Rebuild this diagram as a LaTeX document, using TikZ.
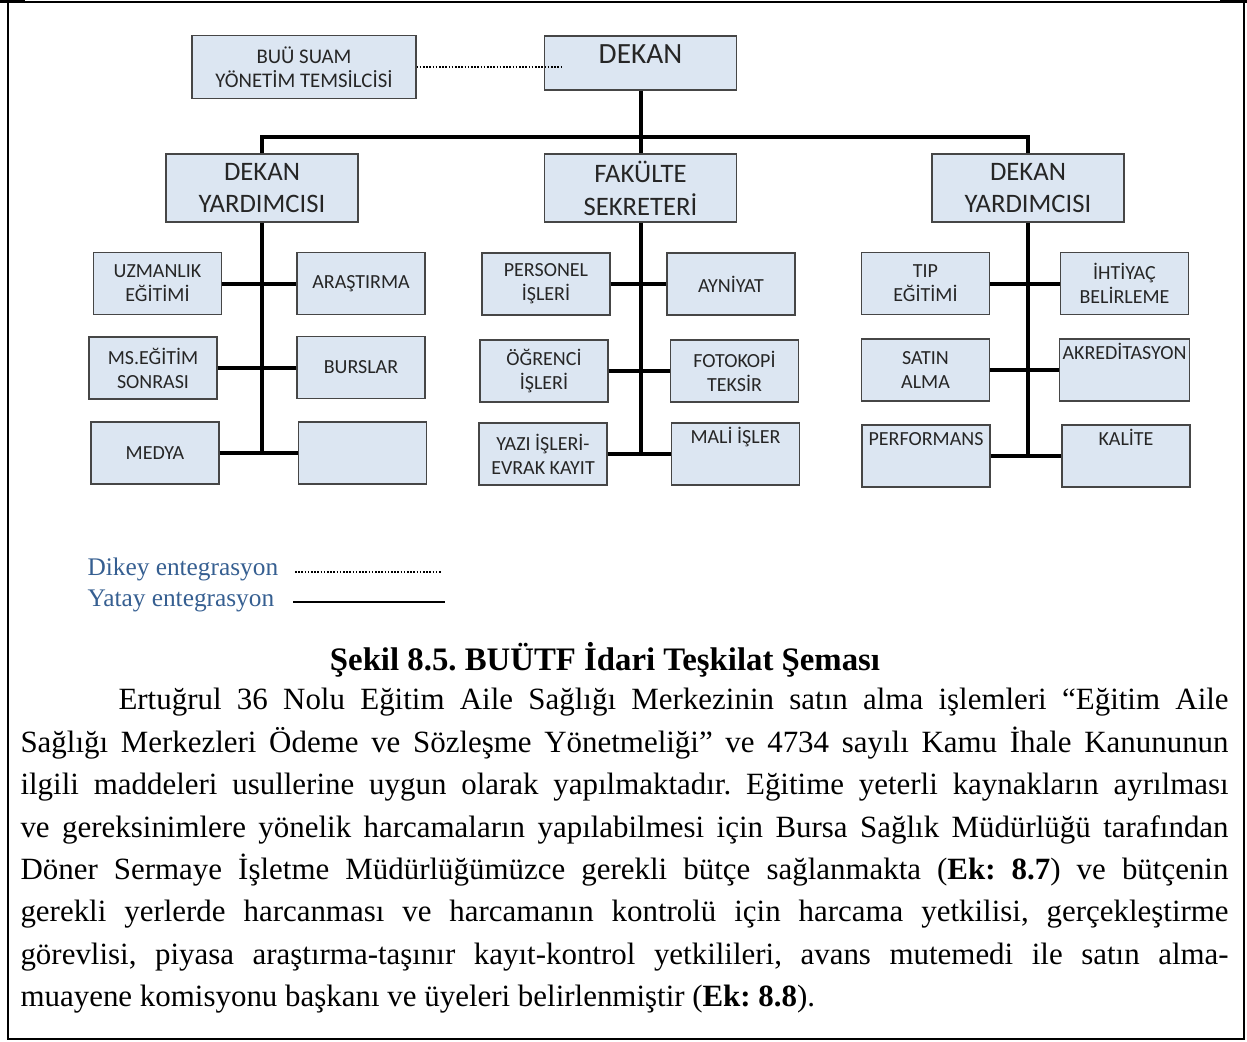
\documentclass[tikz,border=0pt]{standalone}
\usepackage{fontspec}
\setmainfont{Liberation Serif}
\newfontfamily\calib{Carlito}
\usetikzlibrary{calc}
\frenchspacing
\definecolor{boxfill}{RGB}{220,230,242}
\definecolor{boxline}{RGB}{70,70,70}
\definecolor{legendtext}{RGB}{54,95,145}
\tikzstyle{unit}=[rectangle,draw=boxline,fill=boxfill,align=center,inner sep=1pt,text=black!85,minimum width=48pt,minimum height=23.25pt,font={\calib\fontsize{7.5}{9}\selectfont}]
\tikzstyle{topunit}=[unit,text height=5.5pt,text depth=13.7pt]
\tikzstyle{deputy}=[unit,minimum width=72pt,minimum height=25.5pt,font={\calib\fontsize{10}{12.3}\selectfont}]
\tikzstyle{chief}=[deputy,minimum height=20.25pt,text height=8pt,text depth=8pt,font={\calib\fontsize{11}{13}\selectfont}]
\tikzstyle{rep}=[unit,minimum width=84pt,minimum height=23.5pt,font={\calib\fontsize{7.8}{8.8}\selectfont}]
\tikzstyle{link} = [draw,line width=1.5pt]
\tikzstyle{dotlink} = [draw,line width=0.6pt,dash pattern=on 0.6pt off 0.6pt]
\tikzstyle{legend} = [font={\fontsize{9.5}{11}\selectfont},text=legendtext,inner sep=0pt,anchor=base west]

\begin{document}
\begin{tikzpicture}[x=0.375pt,y=-0.375pt]
    \useasboundingbox (0,0) rectangle (1247,1041);
    % page frame
    \draw[line width=0.75pt] (8,2) rectangle (1244,1039);
    \draw[line width=1.2pt] (0,1.5) -- (25,1.5) (1220,1.5) -- (1247,1.5);

    % First we draw the top of the chart
    \node[chief] (dekan) at (640.5,63) {DEKAN};
    \node[rep] (suam) at (304,67) {BUÜ SUAM\\YÖNETİM TEMSİLCİSİ};
    \coordinate (dotend) at (562,65);
    \coordinate (bar) at (640.5,137);

    \foreach \pos/\name/\txt in {{(262,188)/dy1/{DEKAN\\YARDIMCISI}},{(640.5,188)/fak/{FAKÜLTE\\SEKRETERİ}},{(1028,188)/dy2/{DEKAN\\YARDIMCISI}}}
        \node[deputy] (\name) at \pos {\txt};

    % Then the units under each branch
    \foreach \pos/\name/\txt in {{(157.5,283.5)/uzm/{UZMANLIK\\EĞİTİMİ}},{(361,283.5)/ara/{ARAŞTIRMA}},
        {(153,368)/ms/{MS.EĞİTİM\\SONRASI}},{(361,367.5)/burs/{BURSLAR}},
        {(155,453)/medya/{MEDYA}},{(362.5,453)/bos/{}}}
        \node[unit] (\name) at \pos {\txt};

    \foreach \pos/\name/\txt in {{(546,284)/pers/{PERSONEL\\İŞLERİ}},{(731,284)/ayn/{AYNİYAT}},
        {(544,371)/ogr/{ÖĞRENCİ\\İŞLERİ}},{(734.5,371)/foto/{FOTOKOPİ\\TEKSİR}},
        {(543,454)/yazi/{YAZI İŞLERİ-\\EVRAK KAYIT}}}
        \node[unit] (\name) at \pos {\txt};

    \foreach \pos/\name/\txt in {{(925.5,283.5)/tip/{TIP\\EĞİTİMİ}},{(1124.5,283.5)/iht/{İHTİYAÇ\\BELİRLEME}},
        {(925.5,370)/satin/{SATIN\\ALMA}}}
        \node[unit] (\name) at \pos {\txt};

    \foreach \pos/\name/\txt in {{(735.5,454)/mali/{MALİ İŞLER}},{(1124.5,370)/akr/{AKREDİTASYON}},
        {(926,456)/perf/{PERFORMANS}},{(1126,456)/kal/{KALİTE}}}
        \node[topunit] (\name) at \pos {\txt};

    % Connect the boxes
    \path[dotlink] (suam.east) -- (suam.east -| dotend);
    \path[link] (dekan.south) -- (fak.north);
    \path[link] (dy1.north) |- (bar) -| (dy2.north);

    \foreach \top/\bot in {dy1/medya, fak/yazi, dy2/perf}
        \path[link] (\top.south) -- (\top.south |- \bot.east);

    \foreach \source/\dest in {uzm/ara, ms/burs, medya/bos, pers/ayn, ogr/foto, yazi/mali, tip/iht, satin/akr, perf/kal}
        \path[link] (\source.east) -- (\source.east -| \dest.west);

    % legend
    \node[legend] (dikey) at (87,575) {Dikey entegrasyon};
    \node[legend] (yatay) at (87,606) {Yatay entegrasyon};
    \coordinate (d1) at (295,572);
    \coordinate (d2) at (442,572);
    \coordinate (y1) at (293,602);
    \coordinate (y2) at (445,602);
    \path[dotlink] (d1) -- (d2);
    \path[draw,line width=0.8pt] (y1) -- (y2);

    \node[font={\bfseries\fontsize{12.3}{14}\selectfont},anchor=base] (caption) at (605,670) {Şekil 8.5. BUÜTF İdari Teşkilat Şeması};

    \node[text width=453pt,align=justify,inner sep=0pt,anchor=north west,font={\fontsize{11.6}{15.9}\selectfont}] (para) at (20,680)
        {\rule{0pt}{11pt}\hspace*{36.75pt}Ertuğrul 36 Nolu Eğitim Aile Sağlığı Merkezinin satın alma işlemleri “Eğitim Aile\linebreak
        Sağlığı Merkezleri Ödeme ve Sözleşme Yönetmeliği” ve 4734 sayılı Kamu İhale Kanununun\linebreak
        ilgili maddeleri usullerine uygun olarak yapılmaktadır. Eğitime yeterli kaynakların ayrılması\linebreak
        ve gereksinimlere yönelik harcamaların yapılabilmesi için Bursa Sağlık Müdürlüğü tarafından\linebreak
        Döner Sermaye İşletme Müdürlüğümüzce gerekli bütçe sağlanmakta (\textbf{Ek: 8.7}) ve bütçenin\linebreak
        gerekli yerlerde harcanması ve harcamanın kontrolü için harcama yetkilisi, gerçekleştirme\linebreak
        görevlisi, piyasa araştırma-taşınır kayıt-kontrol yetkilileri, avans mutemedi ile satın alma-\linebreak
        muayene komisyonu başkanı ve üyeleri belirlenmiştir (\textbf{Ek: 8.8}).};
\end{tikzpicture}
\end{document}
